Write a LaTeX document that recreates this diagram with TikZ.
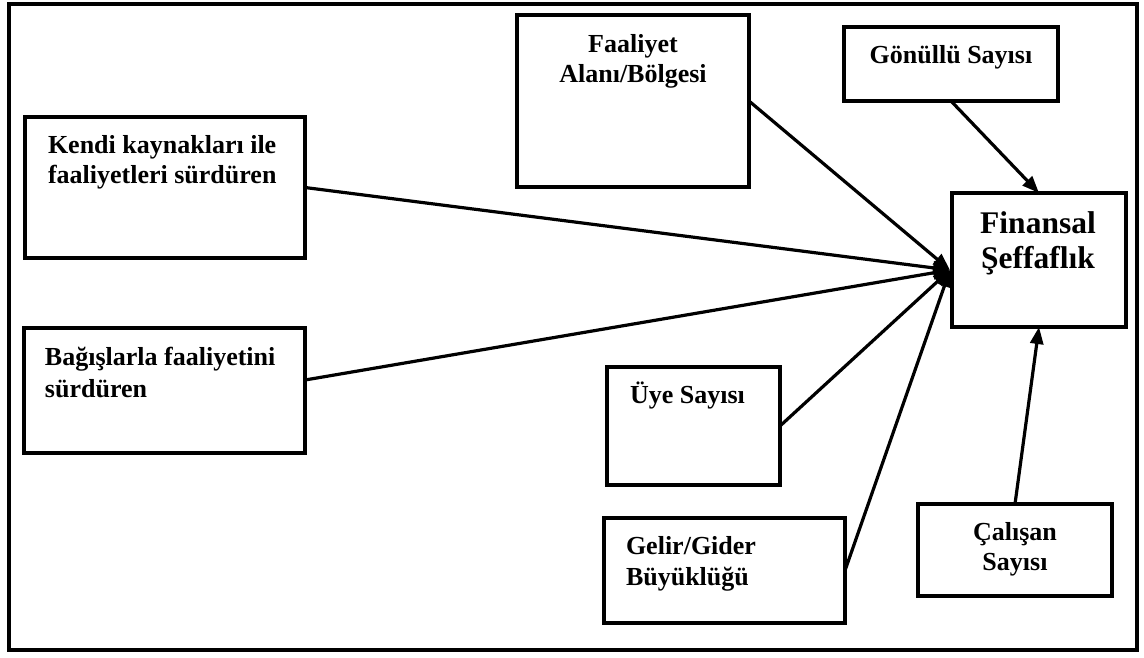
\documentclass[tikz,border=0pt]{standalone}
\usepackage{fontspec}
\setmainfont{Liberation Serif}
\usetikzlibrary{arrows.meta}
\begin{document}
\begin{tikzpicture}[x=1pt,y=-1pt,
  box/.style={draw=black,line width=3.2pt,rectangle,inner sep=0pt,outer sep=0pt},
  lbl/.style={inner sep=0pt,outer sep=0pt,font=\bfseries\fontsize{26}{30}\selectfont},
  big/.style={inner sep=0pt,outer sep=0pt,font=\bfseries\fontsize{31.5}{35}\selectfont},
  conn/.style={line width=3.2pt,-{Triangle[length=17pt,width=13pt]}}]
\useasboundingbox (0,0) rectangle (1144,657);
\draw[line width=3.6pt] (9,4) rectangle (1137,650);

\node[box,minimum width=232pt,minimum height=172pt] (faal) at (633,101) {};
\node[box,minimum width=214pt,minimum height=74pt] (gonullu) at (951,64) {};
\node[box,minimum width=280pt,minimum height=141pt] (kendi) at (165,187.5) {};
\node[box,minimum width=174pt,minimum height=134pt] (finans) at (1039,260) {};
\node[box,minimum width=281pt,minimum height=125pt] (bagis) at (164.5,390.5) {};
\node[box,minimum width=173pt,minimum height=118pt] (uye) at (693.5,426) {};
\node[box,minimum width=241pt,minimum height=105pt] (gelir) at (724.5,570.5) {};
\node[box,minimum width=194pt,minimum height=92pt] (calisan) at (1015,550) {};

\node[lbl,align=center,anchor=north] (faaltxt) at (633,34.3) {Faaliyet\\Alanı/Bölgesi};
\node[lbl,anchor=base] (gonulltxt) at (951,63) {Gönüllü Sayısı};
\node[lbl,align=left,anchor=north west] (kenditxt) at (48,135.3) {Kendi kaynakları ile\\faaliyetleri sürdüren};
\node[big,align=center,anchor=north] (finanstxt) at (1038,212) {Finansal\\Şeffaflık};
\node[lbl,align=left,anchor=north west,font=\bfseries\fontsize{26}{32}\selectfont] (bagistxt) at (45,347.3) {Bağışlarla faaliyetini\\sürdüren};
\node[lbl,anchor=base west] (uyetxt) at (630,403) {Üye Sayısı};
\node[lbl,align=left,anchor=north west,font=\bfseries\fontsize{26}{31}\selectfont] (gelirtxt) at (626,536) {Gelir/Gider\\Büyüklüğü};
\node[lbl,align=center,anchor=north] (calisantxt) at (1015,522.3) {Çalışan\\Sayısı};

\coordinate (hub) at (950,270);
\draw[conn] (kendi.east) -- (hub);
\draw[conn] ([yshift=10.5pt]bagis.east) -- (hub);
\draw[conn] (faal.east) -- (hub);
\draw[conn] (uye.east) -- (hub);
\draw[conn] (gelir.east) -- (hub);
\draw[conn] (gonullu.south) -- (finans.north);
\draw[conn] (calisan.north) -- (finans.south);
\end{tikzpicture}
\end{document}
